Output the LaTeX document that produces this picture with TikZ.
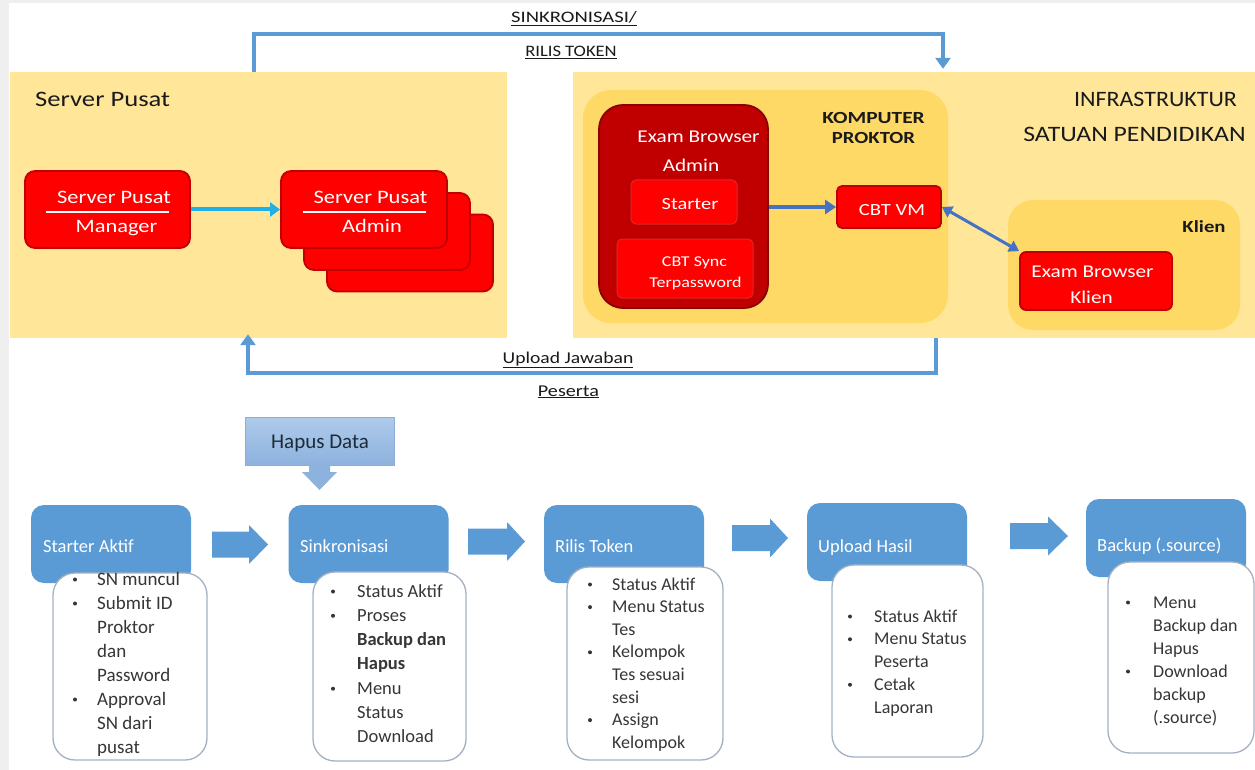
\documentclass[tikz,border=0pt]{standalone}
\usepackage{fontspec}
\setmainfont{Carlito}
\usepackage{graphicx}
\usetikzlibrary{arrows.meta,calc}
\definecolor{panel}{HTML}{FFE699}
\definecolor{innerp}{HTML}{FFD966}
\definecolor{rred}{HTML}{FF0000}
\definecolor{rborder}{HTML}{C00000}
\definecolor{dred}{HTML}{C00000}
\definecolor{dborder}{HTML}{8B0000}
\definecolor{subborder}{HTML}{D82828}
\definecolor{cblue}{HTML}{5B9BD5}
\definecolor{iblue}{HTML}{4472C4}
\definecolor{cyanarr}{HTML}{1FB0E8}
\definecolor{wborder}{HTML}{A3B1C2}
\definecolor{txt}{HTML}{363636}
\definecolor{ttxt}{HTML}{1A1A1A}
\definecolor{hapustop}{HTML}{AECBEB}
\definecolor{hapusbot}{HTML}{8DB2DE}
\definecolor{hapusb}{HTML}{8EAADB}
\definecolor{edgegray}{HTML}{EFEFEF}
\newcommand\wx[2][1.18]{\scalebox{#1}[1]{#2}}
\newcommand\fs[1]{\fontsize{#1}{#1}\selectfont}
% list: name, bullet x, text x, first baseline, step, font size, items
\newcommand\blist[7]{%
  \foreach \bt/\tx [count=\i] in {#7}{%
    \pgfmathsetmacro\yy{#4+(\i-1)*#5}%
    \node[listtxt, font=\fs{#6}] (#1t\i) at (#3,\yy) {\tx};%
    \ifnum\bt=1 \node[bul] (#1b\i) at (#2,\yy-5.5) {};\fi
  }}
\newcommand\barrow[4]{%
  \fill[cblue] (#1,#4-13) -- (#2,#4-13) -- (#2,#4-19.5) -- (#3,#4) -- (#2,#4+19.5) -- (#2,#4+13) -- (#1,#4+13) -- cycle;}
\begin{document}
\begin{tikzpicture}[x=1pt,y=-1pt,
  panelbox/.style={fill=panel,draw=none,inner sep=0pt},
  innerpanel/.style={fill=innerp,draw=none,rounded corners=28pt,inner sep=0pt},
  redbox/.style={fill=rred,draw=rborder,line width=1.8pt,rounded corners=10pt,inner sep=0pt},
  dredbox/.style={fill=dred,draw=dborder,line width=1.8pt,rounded corners=24pt,inner sep=0pt},
  subred/.style={fill=rred,draw=subborder,line width=1pt,rounded corners=5pt,inner sep=0pt},
  wtxt/.style={text=white,inner sep=0pt,anchor=base},
  ttl/.style={text=ttxt,inner sep=0pt,anchor=base},
  hdr/.style={fill=cblue,draw=none,rounded corners=13pt,inner sep=0pt,minimum width=160pt,minimum height=78pt},
  hdrtxt/.style={text=white,inner sep=0pt,anchor=base west,font=\fs{18.5}},
  wbox/.style={fill=white,draw=wborder,line width=1.3pt,rounded corners=22pt,inner sep=0pt},
  listtxt/.style={text=txt,inner sep=0pt,anchor=base west},
  bul/.style={circle,fill=txt,draw=none,inner sep=0pt,minimum size=4pt},
  bconn/.style={draw=cblue,line width=3.2pt,-{Triangle[width=15pt,length=11pt]}},
  iconn/.style={draw=iblue,line width=3.5pt,-{Triangle[width=14pt,length=11pt]}},
  iconn2/.style={draw=iblue,line width=3pt,{Triangle[width=12pt,length=10pt]}-{Triangle[width=12pt,length=10pt]}},
  cconn/.style={draw=cyanarr,line width=4pt,-{Triangle[width=14pt,length=10pt]}},
  hapusbox/.style={top color=hapustop,bottom color=hapusbot,draw=hapusb,line width=1pt,inner sep=0pt}
]
\useasboundingbox (0,0) rectangle (1255,770);
\fill[white] (0,0) rectangle (1255,770);
\fill[edgegray] (0,0) rectangle (9,770);
\fill[edgegray] (0,0) rectangle (1255,3);

% ---------- top panels ----------
\node[panelbox,minimum width=497pt,minimum height=266pt] (sp) at (258.5,205) {};
\node[panelbox,minimum width=682pt,minimum height=266pt] (inf) at (914,205) {};
\node[ttl,anchor=base west,font=\fs{22}] (spt) at (35,107) {\wx[1.21]{Server Pusat}};
\node[ttl,font=\fs{22}] (inft1) at (1155.5,107) {\wx[1.09]{INFRASTRUKTUR}};
\node[ttl,font=\fs{22}] (inft2) at (1134.5,142) {\wx[1.17]{SATUAN PENDIDIKAN}};

% Server Pusat Manager
\node[redbox,minimum width=165pt,minimum height=77pt] (mgr) at (107.5,209.5) {};
\node[wtxt,font=\fs{19}] (mgrt1) at (114,204) {\wx{Server Pusat}};
\draw[white,line width=1.2pt] (46,212) -- (169,212);
\node[wtxt,font=\fs{19}] (mgrt2) at (116.5,233) {\wx{Manager}};

% Server Pusat Admin stack
\node[redbox,minimum width=166pt,minimum height=77pt] (a3) at (410,253) {};
\node[redbox,minimum width=166pt,minimum height=77pt] (a2) at (387,231.5) {};
\node[redbox,minimum width=166pt,minimum height=77pt] (a1) at (364,209.5) {};
\node[wtxt,font=\fs{19}] (a1t1) at (370.5,204) {\wx{Server Pusat}};
\draw[white,line width=1.2pt] (303,212) -- (426,212);
\node[wtxt,font=\fs{19}] (a1t2) at (372,233) {\wx{Admin}};
\draw[cconn] (mgr) -- (a1);

% Komputer Proktor
\node[innerpanel,minimum width=365pt,minimum height=233pt] (kp) at (765.5,206.5) {};
\node[dredbox,minimum width=169pt,minimum height=203pt] (eba) at (683.5,206.5) {};
\node[wtxt,font=\fs{18}] (ebat1) at (698.5,143) {\wx{Exam Browser}};
\node[wtxt,font=\fs{18}] (ebat2) at (691,172) {\wx{Admin}};
\node[subred,minimum width=106pt,minimum height=44pt] (st) at (684,202) {};
\node[wtxt,font=\fs{17}] (stt) at (690,210) {\wx[1.2]{Starter}};
\node[subred,minimum width=136pt,minimum height=59pt] (cs) at (685,268.5) {};
\node[wtxt,font=\fs{15}] (cst1) at (694.5,266) {\wx[1.2]{CBT Sync}};
\node[wtxt,font=\fs{15}] (cst2) at (695.5,287) {\wx[1.2]{Terpassword}};
\node[ttl,font=\bfseries\fs{17}] (kpt1) at (873.5,124) {\wx[1.26]{KOMPUTER}};
\node[ttl,font=\bfseries\fs{17}] (kpt2) at (873.5,144) {\wx[1.22]{PROKTOR}};
\node[redbox,rounded corners=5pt,minimum width=104pt,minimum height=42pt] (vm) at (889,207) {};
\node[wtxt,font=\fs{17}] (vmt) at (892,215) {\wx[1.22]{CBT VM}};
\draw[iconn] (eba.east |- vm.west) -- (vm.west);

% Klien
\node[innerpanel,rounded corners=25pt,minimum width=232pt,minimum height=130pt] (kl) at (1124,265) {};
\node[ttl,font=\bfseries\fs{17}] (klt) at (1204,233) {\wx[1.22]{Klien}};
\node[redbox,rounded corners=6pt,minimum width=152pt,minimum height=58pt] (ebk) at (1096,281) {};
\node[wtxt,font=\fs{18}] (ebkt1) at (1092.5,277) {\wx{Exam Browser}};
\node[wtxt,font=\fs{18}] (ebkt2) at (1091.5,303) {\wx{Klien}};
\draw[iconn2] (vm.east) -- (ebk.north west);

% ---------- connectors between panels ----------
\coordinate (tcR) at (943,34);
\draw[bconn,shorten >=3pt] ([xshift=-4.5pt]sp.north) |- (tcR) -- (tcR |- inf.north);
\node[ttl,font=\fs{16}] (sk1) at (574,23) {\wx[1.29]{\underline{SINKRONISASI/}}};
\node[ttl,font=\fs{16}] (sk2) at (571,57) {\wx[1.16]{\underline{RILIS TOKEN}}};

\coordinate (bcR) at (936,373);
\draw[bconn,shorten >=-4pt] (bcR |- inf.south) -- (bcR) -| ([xshift=-10.5pt]sp.south);
\node[ttl,font=\fs{16.5}] (uj1) at (568,363) {\wx[1.19]{\underline{Upload Jawaban}}};
\node[ttl,font=\fs{16.5}] (uj2) at (568.5,396) {\wx[1.22]{\underline{Peserta}}};

% ---------- Hapus Data ----------
\node[hapusbox,minimum width=149pt,minimum height=48pt] (hd) at (319.5,441) {};
\node[ttl,font=\fs{21},text={rgb,255:red,30;green,42;blue,56}] (hdt) at (320,448) {Hapus Data};
\fill[hapusbot] (309,465) -- (330,465) -- (330,472) -- (337,472) -- (319.5,490) -- (302,472) -- (309,472) -- cycle;

% ---------- process row ----------
\node[hdr] (h1) at (111,544) {};
\node[hdr] (h2) at (368.5,544) {};
\node[hdr] (h3) at (624,544) {};
\node[hdr] (h4) at (887,542) {};
\node[hdr] (h5) at (1166,538) {};
\node[hdrtxt] (h1t) at (43,552) {Starter Aktif};
\node[hdrtxt] (h2t) at (300,552) {Sinkronisasi};
\node[hdrtxt] (h3t) at (555,552) {Rilis Token};
\node[hdrtxt] (h4t) at (818,552) {Upload Hasil};
\node[hdrtxt] (h5t) at (1097,551) {Backup (.source)};

\node[wbox,minimum width=154pt,minimum height=187pt] (w1) at (130,666.5) {};
\node[wbox,minimum width=153pt,minimum height=189pt] (w2) at (389.5,666.5) {};
\node[wbox,minimum width=156pt,minimum height=193pt] (w3) at (645,663.5) {};
\node[wbox,minimum width=151pt,minimum height=192pt] (w4) at (907.5,661) {};
\node[wbox,minimum width=146pt,minimum height=191pt] (w5) at (1181,657.5) {};

\blist{a}{75}{97}{585}{24}{19}{1/SN muncul,1/Submit ID,0/Proktor,0/dan,0/Password,1/Approval,0/SN dari,0/pusat}
\blist{b}{333}{357}{597}{24.3}{18.5}{1/Status Aktif,1/Proses,0/\textbf{Backup dan},0/\textbf{Hapus},1/Menu,0/Status,0/Download}
\blist{c}{590}{612}{590}{22.6}{18}{1/Status Aktif,1/Menu Status,0/Tes,1/Kelompok,0/Tes sesuai,0/sesi,1/Assign,0/Kelompok}
\blist{d}{850}{874}{622}{22.75}{18}{1/Status Aktif,1/Menu Status,0/Peserta,1/Cetak,0/Laporan}
\blist{e}{1128}{1153}{608}{23}{18}{1/Menu,0/Backup dan,0/Hapus,1/Download,0/backup,0/(.source)}

% block arrows between stages
\barrow{212}{249}{268}{544.5}
\barrow{468}{507}{525}{541.5}
\barrow{732}{770}{788}{538}
\barrow{1010}{1048}{1068}{536}
\end{tikzpicture}
\end{document}
